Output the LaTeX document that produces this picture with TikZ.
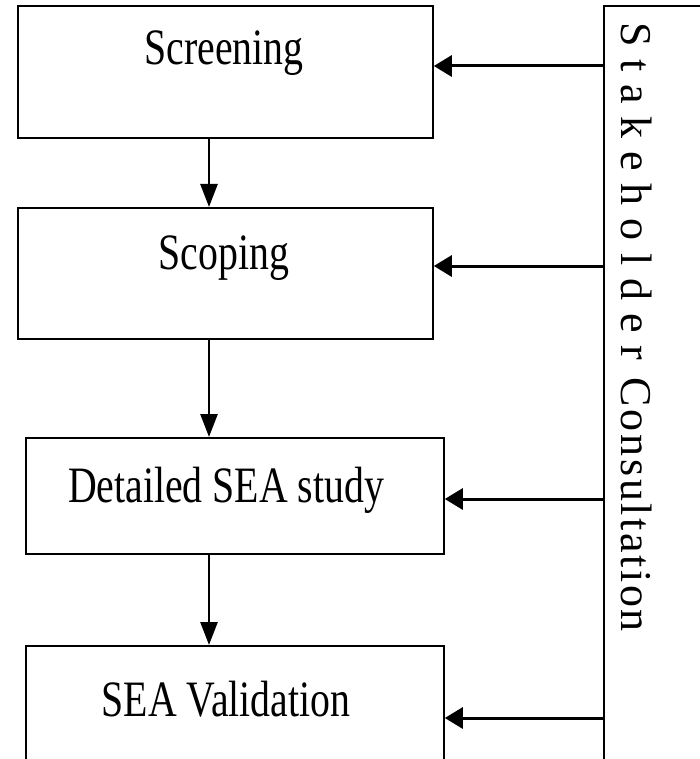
\documentclass[tikz,border=0pt]{standalone}
\usepackage{fontspec}
\setmainfont{Liberation Serif}
\newfontfamily\boxfont[FakeStretch=0.78]{Liberation Serif}
\newfontfamily\stakefont[LetterSpace=29]{Liberation Serif}
\newfontfamily\consfont[LetterSpace=6]{Liberation Serif}
\usetikzlibrary{arrows.meta}
\begin{document}
\begin{tikzpicture}[x=1pt,y=-1pt,
  stagebox/.style={draw, line width=1.8pt, inner sep=0pt, anchor=north west},
  lbl/.style={font=\boxfont\fontsize{51}{51}\selectfont, inner sep=0pt, anchor=center},
  down/.style={draw, line width=2.6pt, -{Triangle[length=23pt,width=17pt]}},
  feed/.style={draw, line width=3pt, -{Triangle[length=18pt,width=21pt]}}]
\useasboundingbox (0,0) rectangle (700,759);
\begin{scope}
\clip (0,0) rectangle (700,759);
% stage boxes
\node[stagebox, minimum width=415pt, minimum height=132pt] (s1) at (17,5) {};
\node[stagebox, minimum width=415pt, minimum height=131pt] (s2) at (17,207) {};
\node[stagebox, minimum width=418pt, minimum height=116pt] (s3) at (25,437) {};
\node[stagebox, minimum width=418pt, minimum height=160pt] (s4) at (25,645) {};
% stakeholder box
\node[stagebox, minimum width=160pt, minimum height=800pt] (sk) at (603,5) {};
\end{scope}
% labels
\node[lbl] (t1) at (224,53) {Screening};
\node[lbl] (t2) at (224,258) {Scoping};
\node[lbl] (t3) at (226,490) {Detailed SEA study};
\node[lbl] (t4) at (226,699) {SEA Validation};
\node[rotate=-90, inner sep=0pt, anchor=base west] (st) at (621,22)
  {\fontsize{44}{44}\selectfont{\stakefont Stakeholder}\hspace{18pt}{\consfont Consultation}};
% flow arrows
\coordinate (dx) at (209,0);
\draw[down] (dx |- s1.south) -- (dx |- s2.north);
\draw[down] (dx |- s2.south) -- (dx |- s3.north);
\draw[down] (dx |- s3.south) -- (dx |- s4.north);
% consultation arrows
\coordinate (f1) at (603,66);
\coordinate (f2) at (603,266);
\coordinate (f3) at (603,499);
\coordinate (f4) at (603,718);
\draw[feed] (f1) -- (f1 -| s1.east);
\draw[feed] (f2) -- (f2 -| s2.east);
\draw[feed] (f3) -- (f3 -| s3.east);
\draw[feed] (f4) -- (f4 -| s4.east);
\end{tikzpicture}
\end{document}
